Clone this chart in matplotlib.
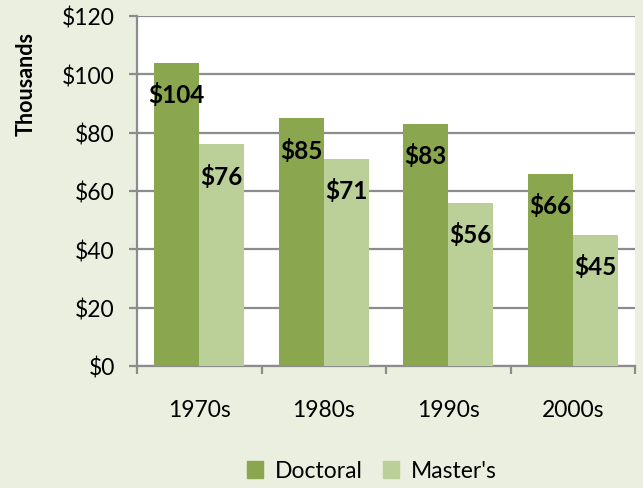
import matplotlib
matplotlib.use("Agg")
import matplotlib.pyplot as plt
import numpy as np
from matplotlib.patches import Patch

categories = ["1970s", "1980s", "1990s", "2000s"]
doctoral = [104, 85, 83, 66]
masters = [76, 71, 56, 45]
series_names = ["Doctoral", "Master's"]
yticks = [0, 20, 40, 60, 80, 100, 120]
ytick_labels = ["$0", "$20", "$40", "$60", "$80", "$100", "$120"]

FONT = ["Lato", "DejaVu Sans"]
plt.rcParams["font.family"] = FONT

bg = "#ebefe0"
c_doc = "#8aa64f"
c_mas = "#bbcf98"
grid_c = "#8c8c8c"

fig = plt.figure(figsize=(6.43, 4.89), dpi=100, facecolor=bg)
ax = fig.add_axes([137/643, 1-367/489, (635-137)/643, (367-17)/489])
ax.set_facecolor("white")

x = np.arange(len(categories))
w = 0.36
b1 = ax.bar(x - w/2, doctoral, w, color=c_doc, zorder=3)
b2 = ax.bar(x + w/2, masters, w, color=c_mas, zorder=3)

for bars, vals in ((b1, doctoral), (b2, masters)):
    for rect, v in zip(bars, vals):
        ax.annotate(f"${v}", (rect.get_x() + rect.get_width()/2, rect.get_height()),
                    xytext=(0, -14), textcoords="offset points",
                    ha="center", va="top", fontsize=17.5, fontweight="bold",
                    color="black", zorder=5)

ax.set_xlim(-0.5, len(categories) - 0.5)
ax.set_ylim(0, 120)
ax.set_yticks(yticks)
ax.set_yticklabels(ytick_labels, fontsize=16.5)
ax.yaxis.grid(True, color=grid_c, linewidth=1.6, zorder=0)
ax.set_axisbelow(True)

ax.set_xticks(np.arange(-0.5, len(categories), 1.0))
ax.set_xticklabels([])
ax.set_xticks(x, minor=True)
ax.set_xticklabels(categories, minor=True, fontsize=16.5)
ax.tick_params(axis="x", which="minor", length=0, pad=24)
ax.tick_params(axis="x", which="major", length=6, color=grid_c, width=1.6)
ax.tick_params(axis="y", length=6, color=grid_c, width=1.6, pad=10)

for s in ("top", "right"):
    ax.spines[s].set_visible(False)
for s in ("left", "bottom"):
    ax.spines[s].set_color(grid_c)
    ax.spines[s].set_linewidth(1.6)

fig.text(26/643, 1-84/489, "Thousands", rotation=90, fontsize=15.5,
         fontweight="bold", ha="center", va="center")

handles = [Patch(color=c_doc, label=series_names[0]),
           Patch(color=c_mas, label=series_names[1])]
fig.legend(handles=handles, loc="center", bbox_to_anchor=(372/643, 1-472/489),
           ncol=2, frameon=False, fontsize=16.5, handlelength=0.7, handleheight=0.7,
           handletextpad=0.5, columnspacing=0.9)

fig.savefig("out.png", dpi=100, facecolor=bg)
